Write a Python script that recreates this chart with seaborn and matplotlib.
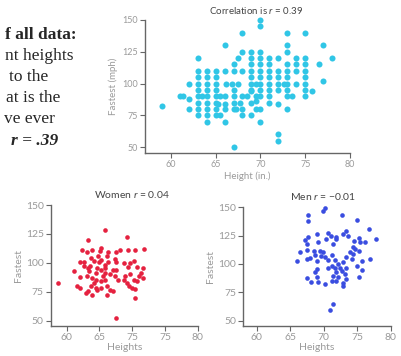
import pandas as pd
import seaborn as sns
import matplotlib.pyplot as plt

# all students (top panel)
all_height = [70, 70, 68, 73, 75, 66, 73, 77, 73, 68, 69, 70,
              63, 67.5, 69, 70, 71, 72, 74, 75, 78,
              67, 69, 70, 71, 73, 74, 75, 76.5,
              63, 64, 65, 66, 67, 68, 69, 70, 71, 72, 73, 74, 75,
              63, 64, 65, 69, 70, 71, 72, 73, 75,
              62, 63, 64, 65, 66.2, 66.8, 67.5, 69, 69.5, 70, 71, 72, 72.6, 73, 74, 75, 77,
              63, 64, 65, 67, 69, 70, 71, 72, 73, 75,
              61, 61.4, 62, 63, 63.5, 64, 65, 65.5, 66, 67, 68, 68.5, 69, 69.5, 70, 71, 73, 73.5, 75, 75.8,
              63, 64, 65, 65.3, 66, 67, 67.7, 69, 69.5, 71, 72,
              62, 63, 64, 65, 66, 67, 67.3, 68, 69.5, 70, 73,
              59,
              63, 64, 65, 65.5, 68, 69,
              64, 66, 70,
              72, 72, 67]
all_speed = [150, 145, 140, 140, 140, 130, 130, 130, 125, 125, 125, 125,
             120, 120, 120, 120, 120, 120, 120, 120, 120,
             115, 115, 115, 115, 115, 115, 115, 115,
             110, 110, 110, 110, 110, 110, 110, 110, 110, 110, 110, 110, 110,
             105, 105, 105, 105, 105, 105, 105, 105, 105,
             100, 100, 100, 100, 100, 100, 100, 100, 100, 100, 100, 100, 100, 100, 100, 100, 102,
             95, 95, 95, 95, 95, 95, 95, 95, 95, 95,
             90, 90, 88, 90, 90, 90, 90, 90, 90, 90, 90, 90, 94, 90, 90, 90, 90, 90, 90, 94,
             85, 85, 85, 84, 84, 85, 85, 85, 86, 85, 84,
             80, 80, 80, 80, 80, 80, 80, 80, 80, 80, 80,
             82,
             75, 75, 75, 75, 75, 75,
             70, 70, 70,
             60, 55, 50]

women_height = [58.7, 61.1, 62.1, 61.6, 62.4, 63.1, 63.3, 62.6, 63.7, 63.6, 63.3, 63.4, 63.1, 63.9,
                64.5, 64.7, 65.0, 65.3, 64.8, 65.1, 65.3, 65.9, 64.2, 65.3, 63.7, 64.5, 63.2, 63.9,
                62.9, 62.1, 65.5, 65.8, 66.2, 66.6, 66.3, 66.2, 65.9, 65.9, 67.1, 67.4, 67.6, 67.9,
                66.6, 66.1, 66.3, 67.6, 68.2, 69.4, 68.8, 69.7, 69.4, 68.9, 68.7, 69.2, 69.5, 69.2,
                70.5, 70.3, 70.8, 71.05, 71.6, 69.7, 70.0, 70.4, 70.5, 67.6, 71.8, 71.6, 71.3, 70.3,
                70.8, 67.4, 67.6, 67.1, 65.3, 64.7, 64.2, 63.9, 62.1, 62.6, 64.5, 65.3, 65.8]
women_speed = [82.7, 92.8, 87.9, 79.8, 111.5, 109, 119.6, 100.6, 104, 97, 95.7, 92.8, 88.5, 87,
               91, 95.7, 100.6, 102.9, 105.8, 110, 113, 128.8, 82.7, 84, 80, 78.4, 75.5, 72.6,
               74, 78.4, 88.5, 85.6, 79.8, 90, 100.6, 105.8, 91.5, 95.7, 94.2, 103, 94.2, 85.6,
               77, 72.6, 109, 109, 111.5, 111.5, 100, 100, 96.5, 88.5, 85.6, 82.7, 80, 122.5,
               111, 101.4, 96.5, 88.5, 87, 90, 78.4, 69.7, 77.5, 52.4, 112.4, 95.7, 91.4, 85.6,
               84, 88.5, 100.6, 75.5, 78.4, 77, 101.4, 111.5, 100.6, 97, 85.6, 94.2, 98.5]

men_height = [67.6, 67.6, 70.2, 69.95, 72.7, 74.9, 76.7, 77.8, 76.9, 67.2, 67.5, 67.7, 68.95, 70.7,
              71.1, 71.9, 71.9, 70.4, 69.2, 71.4, 72.9, 73.4, 73.7, 74.5, 75.2, 75.4, 74.3, 76.2,
              66.5, 67.5, 68.5, 68.7, 69.4, 69.6, 69.95, 70.2, 70.7, 71.2, 71.7, 72.2, 72.4, 72.9,
              73.4, 73.9, 74.4, 74.7, 75.2, 75.7, 74.9, 67.5, 68.0, 68.95, 70.7, 71.2, 71.7, 71.9,
              72.7, 73.2, 73.4, 68.95, 68.7, 68.95, 70.2, 71.2, 71.4, 72.2, 73.4, 71.9, 67.5, 68.1,
              72.9, 72.9, 75.2, 75.7, 71.4, 70.9, 69.2, 66.0, 74.2]
men_speed = [143, 138, 149.4, 146.5, 143.2, 139, 131, 122, 104.4, 121.5, 117.6, 124, 126.5, 127.4,
             125, 124, 122, 122, 119, 117.6, 126.5, 129.4, 125, 120.6, 123, 119, 114.7, 119,
             110.3, 112.6, 111.8, 108, 111, 107.4, 110.3, 105.9, 103.8, 108.2, 103.5, 100, 96.5, 101.5,
             105.9, 110.3, 108.8, 113.2, 111.2, 103, 98.5, 104.4, 105.3, 103, 96.5, 98.5, 96.5, 92.6,
             94.1, 91.2, 96.5, 95.6, 92.6, 88.2, 82.4, 85.3, 89.7, 88.2, 86.8, 85.3, 87.6, 83.8,
             83.2, 80.9, 88.8, 94.7, 64.7, 59.4, 83.8, 103, 104.4]

# the caption as it shows, its left side is cut off in the source picture
caption = ['f all data:', 'nt heights', 'to the', 'at is the', 've ever', 'r = .39']

sns.set_style("ticks")
plt.rcParams['font.family'] = ['Lato', 'DejaVu Sans']
plt.rcParams['mathtext.fontset'] = 'custom'
plt.rcParams['mathtext.it'] = 'Lato:italic'
plt.rcParams['mathtext.rm'] = 'Lato'

spine_c = '#666666'
label_c = '#9a9a9a'
title_c = '#444444'

fig = plt.figure(figsize=(4.02, 3.56), dpi=100)
ax_all = fig.add_axes([0.361, 0.570, 0.510, 0.374])
ax_w = fig.add_axes([0.126, 0.085, 0.366, 0.339])
ax_m = fig.add_axes([0.605, 0.085, 0.367, 0.333])

df_all = pd.DataFrame({'height': all_height, 'speed': all_speed})
df_w = pd.DataFrame({'height': women_height, 'speed': women_speed})
df_m = pd.DataFrame({'height': men_height, 'speed': men_speed})

sns.scatterplot(data=df_all, x='height', y='speed', ax=ax_all, color='#30c6e6',
                s=19, linewidth=0, clip_on=False)
sns.scatterplot(data=df_w, x='height', y='speed', ax=ax_w, color='#e5213f',
                s=11, linewidth=0, clip_on=False)
sns.scatterplot(data=df_m, x='height', y='speed', ax=ax_m, color='#3a4de0',
                s=11, linewidth=0, clip_on=False)

ax_all.set_xlim(57.15, 80)
ax_all.set_ylim(45.3, 150)
ax_w.set_xlim(57.56, 80)
ax_w.set_ylim(45.7, 150)
ax_m.set_xlim(58, 80)
ax_m.set_ylim(45.6, 150)

for ax, lsize in ((ax_all, 6.5), (ax_w, 7.5), (ax_m, 7.5)):
    sns.despine(ax=ax)
    ax.set_xticks([60, 65, 70, 75, 80])
    ax.set_yticks([50, 75, 100, 125, 150])
    for sp in ('left', 'bottom'):
        ax.spines[sp].set_color(spine_c)
        ax.spines[sp].set_linewidth(1)
    ax.tick_params(colors=spine_c, labelcolor=label_c, labelsize=lsize,
                   length=3.5, width=0.8, pad=1.5)

ax_w.set_xticklabels(['60', '65', '75', '75', '80'])

ax_all.set_xlabel('Height (in.)', color=label_c, fontsize=7, labelpad=2)
ax_all.set_ylabel('Fastest (mph)', color=label_c, fontsize=7, labelpad=3)
for ax in (ax_w, ax_m):
    ax.set_xlabel('Heights', color=label_c, fontsize=7.5, labelpad=1)
    ax.set_ylabel('Fastest', color=label_c, fontsize=7.5, labelpad=2)

ax_all.set_title('Correlation is $\\mathit{r}$ = 0.39', fontsize=7, color=title_c, x=0.54, pad=4)
ax_w.set_title('Women $\\mathit{r}$ = 0.04', fontsize=7.5, color=title_c, x=0.55, pad=5)
ax_m.set_title('Men $\\mathit{r}$ = \u22120.01', fontsize=7.5, color=title_c, x=0.54, pad=5)

# caption lines: right edge and vertical centre in pixels
serif = ['Liberation Serif', 'DejaVu Serif']
right_px = [77, 74, 48, 60, 55, 58]
centre_px = [35, 56, 77, 98, 119, 141]
for i, txt in enumerate(caption):
    weight = 'bold' if i in (0, 5) else 'normal'
    style = 'italic' if i == 5 else 'normal'
    fig.text(right_px[i] / 402, 1 - centre_px[i] / 356, txt, ha='right', va='center',
             family=serif, fontsize=12.5, fontweight=weight, fontstyle=style)

fig.savefig('out.png', dpi=100)
